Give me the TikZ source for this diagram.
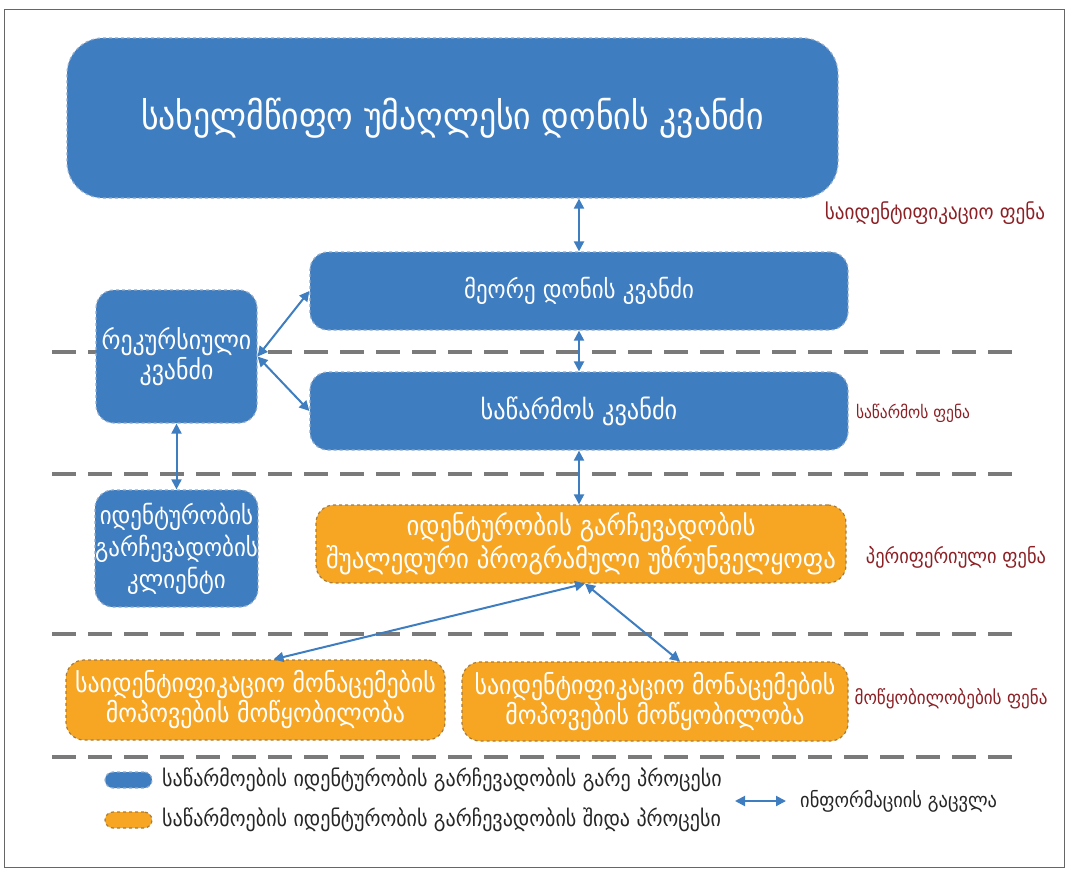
\documentclass[tikz,border=0pt]{standalone}
\usepackage{fontspec}
\setmainfont{DejaVu Sans Condensed}
\usetikzlibrary{arrows.meta,calc}
\definecolor{nodeblue}{HTML}{3F7DC1}
\definecolor{blueedge}{HTML}{8FAACB}
\definecolor{nodeorange}{HTML}{F6A623}
\definecolor{orangeedge}{HTML}{A97C3A}
\definecolor{layerred}{HTML}{8B2025}
\definecolor{sepgray}{HTML}{7A7A7A}
\begin{document}
\begin{tikzpicture}[x=1pt,y=-1pt,
  bluebox/.style={rectangle, rounded corners=18pt, fill=nodeblue, draw=blueedge,
    dashed, line width=1.2pt, text=white, align=center, inner sep=0pt},
  orangebox/.style={rectangle, rounded corners=18pt, fill=nodeorange, draw=orangeedge,
    dashed, line width=1.2pt, text=white, align=center, inner sep=0pt},
  layerlabel/.style={text=layerred, font=\fontsize{20.5}{24}\selectfont, inner sep=0pt},
  legendtext/.style={text=black!85, font=\fontsize{22.3}{26}\selectfont, anchor=west, inner sep=0pt},
  sep/.style={sepgray, line width=3.5pt, dash pattern=on 24pt off 12pt},
  link/.style={nodeblue, line width=2pt, {Triangle[length=10pt,width=10pt]}-{Triangle[length=10pt,width=10pt]}},
  boxtext/.style={font=\fontsize{25.5}{30}\selectfont}
]
% canvas and outer frame
\useasboundingbox (0,0) rectangle (1065,870);
\draw[black!60, line width=1pt] (4,9) rectangle (1064,867);

% layer separators
\draw[sep] (52,352) -- (1022,352);
\draw[sep] (52,474) -- (1022,474);
\draw[sep] (52,634) -- (1022,634);
\draw[sep] (52,757) -- (1022,757);

% nodes
\node[bluebox, rounded corners=36pt, minimum width=771pt, minimum height=160pt,
  font=\fontsize{37.5}{40}\selectfont] (top) at (452.5,118) {სახელმწიფო უმაღლესი დონის კვანძი};
\node[bluebox, boxtext, minimum width=538pt, minimum height=78pt] (second) at (579,291) {მეორე დონის კვანძი};
\node[bluebox, boxtext, minimum width=538pt, minimum height=78pt, font=\fontsize{27}{30}\selectfont] (ent) at (579,411) {საწარმოს კვანძი};
\node[bluebox, minimum width=161pt, minimum height=133pt, font=\fontsize{26.5}{30}\selectfont] (rec) at (176.5,356.5) {რეკურსიული\\კვანძი};
\node[bluebox, minimum width=161pt, minimum height=117pt, font=\fontsize{25.5}{32}\selectfont] (client) at (176.5,548.5) {იდენტურობის\\გარჩევადობის\\კლიენტი};
\node[orangebox, minimum width=530pt, minimum height=78pt, font=\fontsize{27.5}{33}\selectfont] (mw) at (581,544) {იდენტურობის გარჩევადობის\\შუალედური პროგრამული უზრუნველყოფა};
\node[orangebox, minimum width=379pt, minimum height=80pt, font=\fontsize{26.5}{30}\selectfont] (devL) at (255.5,700) {საიდენტიფიკაციო მონაცემების\\მოპოვების მოწყობილობა};
\node[orangebox, minimum width=386pt, minimum height=79pt, font=\fontsize{26.5}{30}\selectfont] (devR) at (655,701.5) {საიდენტიფიკაციო მონაცემების\\მოპოვების მოწყობილობა};

% layer labels
\node[layerlabel, font=\fontsize{21.3}{24}\selectfont] (l1) at (935,213) {საიდენტიფიკაციო ფენა};
\node[layerlabel, font=\fontsize{17.2}{24}\selectfont] (l2) at (913,413) {საწარმოს ფენა};
\node[layerlabel] (l3) at (956,557) {პერიფერიული ფენა};
\node[layerlabel, font=\fontsize{19}{24}\selectfont] (l4) at (951,699) {მოწყობილობების ფენა};

% information exchange
\draw[link] (second.north) -- (second.north |- top.south);
\draw[link] (second.south) -- (ent.north);
\draw[link] (ent.south) -- (ent.south |- mw.north);
\draw[link] (rec.east) -- (second.west);
\draw[link] (rec.east) -- (ent.west);
\draw[link] (rec.south) -- (client.north);
\draw[link] ([xshift=4pt]mw.south) -- ([xshift=18pt]devL.north);
\draw[link] ([xshift=4pt]mw.south) -- ([xshift=25pt]devR.north);

% legend
\node[bluebox, rounded corners=8pt, minimum width=47pt, minimum height=16pt] (keyblue) at (128.5,780) {};
\node[orangebox, rounded corners=8pt, minimum width=47pt, minimum height=16pt] (keyorange) at (128.5,820) {};
\node[legendtext] (tblue) at (162,780) {საწარმოების იდენტურობის გარჩევადობის გარე პროცესი};
\node[legendtext] (torange) at (162,820) {საწარმოების იდენტურობის გარჩევადობის შიდა პროცესი};
\coordinate (ka) at (735,801);
\coordinate (kb) at (786,801);
\draw[link] (ka) -- (kb);
\node[legendtext, font=\fontsize{20.5}{24}\selectfont] (tlink) at (800,801) {ინფორმაციის გაცვლა};
\end{tikzpicture}
\end{document}
